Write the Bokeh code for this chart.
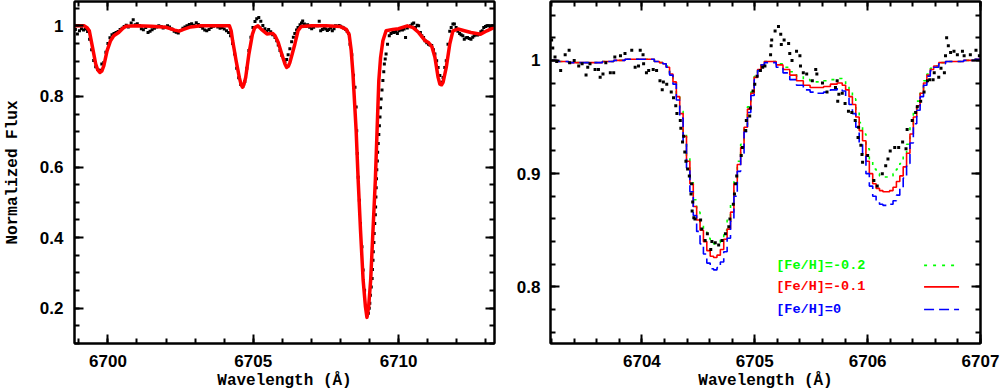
import numpy as np
from bokeh.plotting import figure
from bokeh.layouts import row
from bokeh.models import Range1d, FixedTicker, LinearAxis, Label, CustomJSTickFormatter
from bokeh.embed import file_html
from bokeh.resources import INLINE

# ---------------- left panel: observed spectrum (dots) ----------------
obs_left_wl = [6698.88, 6698.95, 6699.02, 6699.09, 6699.16, 6699.23, 6699.30, 6699.37, 6699.44, 6699.51,
               6699.58, 6699.65, 6699.72, 6699.79, 6699.86, 6699.93, 6700.00, 6700.07, 6700.14, 6700.21,
               6700.28, 6700.35, 6700.42, 6700.49, 6700.56, 6700.63, 6700.70, 6700.80, 6700.87, 6700.94,
               6701.01, 6701.08, 6701.15, 6701.22, 6701.30, 6701.38, 6701.45, 6701.52, 6701.60, 6701.68,
               6701.75, 6701.83, 6701.90, 6701.98, 6702.05, 6702.12, 6702.20, 6702.28, 6702.35, 6702.42,
               6702.50, 6702.58, 6702.65, 6702.72, 6702.80, 6702.88, 6702.96, 6703.04, 6703.11, 6703.18,
               6703.26, 6703.33, 6703.40, 6703.48, 6703.55, 6703.63, 6703.70, 6703.78, 6703.86, 6703.93,
               6704.00, 6704.08, 6704.15, 6704.22, 6704.29, 6704.36, 6704.43, 6704.50, 6704.57, 6704.64,
               6704.71, 6704.78, 6704.85, 6704.92, 6704.99, 6705.06, 6705.12, 6705.19, 6705.26, 6705.33,
               6705.40, 6705.47, 6705.53, 6705.60, 6705.67, 6705.75, 6705.81, 6705.86, 6705.92, 6705.98,
               6706.04, 6706.09, 6706.15, 6706.20, 6706.26, 6706.32, 6706.38, 6706.43, 6706.49, 6706.54,
               6706.61, 6706.66, 6706.70, 6706.76, 6706.82, 6706.87, 6706.94, 6707.01, 6707.08, 6707.14,
               6707.21, 6707.27, 6707.32, 6707.38, 6707.44, 6707.49, 6707.55, 6707.60, 6707.66, 6707.72,
               6707.78, 6707.83, 6707.90, 6707.95, 6708.00, 6708.06, 6708.11, 6708.18, 6708.23, 6708.28,
               6708.33, 6708.39, 6708.45, 6708.50, 6708.54, 6708.56, 6708.58, 6708.61, 6708.65, 6708.69,
               6708.74, 6708.78, 6708.83, 6708.87, 6708.92, 6708.96, 6708.99, 6709.01, 6709.03, 6709.06,
               6709.09, 6709.10, 6709.12, 6709.13, 6709.15, 6709.16, 6709.18, 6709.20, 6709.21, 6709.22,
               6709.23, 6709.24, 6709.25, 6709.27, 6709.28, 6709.30, 6709.32, 6709.34, 6709.36, 6709.38,
               6709.40, 6709.43, 6709.46, 6709.49, 6709.51, 6709.54, 6709.57, 6709.62, 6709.68, 6709.74,
               6709.80, 6709.85, 6709.91, 6709.96, 6710.02, 6710.08, 6710.13, 6710.19, 6710.24, 6710.30,
               6710.36, 6710.41, 6710.47, 6710.52, 6710.58, 6710.64, 6710.69, 6710.75, 6710.80, 6710.86,
               6710.91, 6710.97, 6711.03, 6711.08, 6711.14, 6711.20, 6711.25, 6711.31, 6711.36, 6711.42,
               6711.48, 6711.53, 6711.59, 6711.64, 6711.70, 6711.76, 6711.81, 6711.87, 6711.92, 6711.98,
               6712.04, 6712.10, 6712.15, 6712.21, 6712.26, 6712.32, 6712.37, 6712.43, 6712.49, 6712.55,
               6712.60, 6712.66, 6712.72, 6712.77, 6712.83, 6712.88, 6712.93, 6712.99, 6713.05, 6713.10,
               6713.16, 6713.22, 6713.28]
obs_left_flux = [0.990, 0.977, 0.986, 0.992, 0.988, 0.991, 0.984, 0.962, 0.932, 0.902,
                 0.884, 0.876, 0.874, 0.892, 0.896, 0.925, 0.950, 0.966, 0.975, 0.978,
                 0.981, 0.984, 0.990, 0.993, 0.998, 1.002, 0.997, 1.008, 1.017, 1.003,
                 1.006, 1.001, 0.992, 0.989, 0.995, 0.981, 0.985, 0.989, 0.993, 0.997,
                 1.000, 0.998, 0.994, 0.996, 1.000, 0.997, 0.991, 0.985, 0.982, 0.980,
                 0.987, 0.993, 0.997, 1.000, 1.004, 1.006, 1.002, 1.009, 1.004, 0.998,
                 0.993, 0.988, 0.986, 0.990, 0.995, 0.999, 1.001, 0.997, 0.993, 0.995,
                 0.991, 0.986, 0.981, 0.972, 0.950, 0.920, 0.880, 0.853, 0.834, 0.828,
                 0.842, 0.880, 0.930, 0.968, 0.995, 1.012, 1.020, 1.024, 1.013, 1.001,
                 0.992, 0.985, 0.990, 0.983, 0.975, 0.967, 0.958, 0.946, 0.930, 0.917,
                 0.905, 0.899, 0.905, 0.918, 0.935, 0.955, 0.968, 0.978, 0.988, 0.995,
                 1.003, 1.008, 1.014, 1.005, 0.998, 1.003, 0.996, 0.992, 0.996, 1.001,
                 1.000, 1.013, 0.986, 0.990, 0.995, 0.991, 0.987, 0.990, 0.994, 0.986,
                 0.992, 1.000, 0.998, 1.001, 0.999, 0.996, 0.994, 0.990, 0.985, 0.978,
                 0.948, 0.918, 0.860, 0.826, 0.770, 0.703, 0.638, 0.571, 0.506, 0.440,
                 0.374, 0.308, 0.251, 0.204, 0.181, 0.186, 0.200, 0.214, 0.237, 0.260,
                 0.284, 0.310, 0.336, 0.360, 0.386, 0.412, 0.440, 0.465, 0.487, 0.515,
                 0.541, 0.567, 0.592, 0.617, 0.642, 0.667, 0.692, 0.717, 0.742, 0.768,
                 0.793, 0.818, 0.845, 0.870, 0.892, 0.906, 0.920, 0.948, 0.972, 0.978,
                 0.982, 0.981, 0.984, 0.978, 0.986, 0.990, 0.988, 0.991, 0.967, 0.994,
                 0.998, 1.000, 1.005, 1.008, 0.995, 1.002, 1.000, 0.981, 0.972, 0.967,
                 0.958, 0.952, 0.948, 0.946, 0.944, 0.932, 0.920, 0.901, 0.882, 0.859,
                 0.840, 0.854, 0.882, 0.901, 0.948, 0.985, 0.995, 1.005, 1.005, 0.995,
                 0.985, 0.978, 0.975, 0.972, 0.962, 0.966, 0.967, 0.964, 0.962, 0.968,
                 0.972, 0.975, 0.974, 0.976, 0.983, 0.986, 0.995, 0.998, 1.000, 1.000,
                 0.998, 1.000, 0.999]

# ---------------- left panel: synthetic spectrum (red line) ----------------
syn_left_wl = [6698.85, 6699.19, 6699.28, 6699.36, 6699.47, 6699.58, 6699.65, 6699.72, 6699.79, 6699.86,
               6699.97, 6700.09, 6700.20, 6700.37, 6700.50, 6700.62, 6701.00, 6701.50, 6702.00, 6702.30,
               6702.45, 6702.60, 6702.85, 6703.20, 6703.80, 6704.18, 6704.24, 6704.29, 6704.35, 6704.41,
               6704.52, 6704.58, 6704.63, 6704.68, 6704.74, 6704.85, 6704.97, 6705.05, 6705.16, 6705.28,
               6705.47, 6705.60, 6705.68, 6705.75, 6705.86, 6705.98, 6706.09, 6706.15, 6706.21, 6706.26,
               6706.34, 6706.43, 6706.54, 6706.65, 6707.00, 6707.50, 6708.00, 6708.20, 6708.30, 6708.37,
               6708.43, 6708.54, 6708.61, 6708.69, 6708.78, 6708.86, 6708.91, 6708.97, 6709.04, 6709.12,
               6709.20, 6709.26, 6709.32, 6709.38, 6709.46, 6709.57, 6709.80, 6710.00, 6710.30, 6710.50,
               6710.69, 6710.91, 6711.03, 6711.15, 6711.25, 6711.36, 6711.42, 6711.48, 6711.53, 6711.64,
               6711.76, 6711.87, 6712.04, 6712.49, 6712.82, 6713.04, 6713.30]
syn_left_flux = [1.000, 1.000, 0.995, 0.986, 0.939, 0.892, 0.875, 0.868, 0.872, 0.887,
                 0.929, 0.958, 0.972, 0.981, 0.992, 0.999, 1.000, 0.999, 0.996, 0.988,
                 0.985, 0.990, 0.997, 1.000, 1.000, 1.000, 0.986, 0.958, 0.930, 0.901,
                 0.854, 0.834, 0.826, 0.834, 0.854, 0.920, 0.976, 0.995, 1.000, 0.990,
                 0.977, 0.978, 0.978, 0.972, 0.953, 0.920, 0.892, 0.882, 0.886, 0.896,
                 0.920, 0.948, 0.986, 0.998, 1.000, 1.000, 0.998, 0.990, 0.975, 0.930,
                 0.865, 0.703, 0.562, 0.421, 0.280, 0.204, 0.174, 0.204, 0.280, 0.421,
                 0.562, 0.703, 0.845, 0.910, 0.958, 0.986, 0.990, 0.992, 1.000, 0.995,
                 0.981, 0.958, 0.953, 0.940, 0.911, 0.854, 0.835, 0.833, 0.840, 0.882,
                 0.948, 0.986, 0.991, 0.981, 0.976, 0.986, 0.996]

# ---------------- right panel: observed spectrum (dots) ----------------
obs_right_wl = [6703.20, 6703.21, 6703.23, 6703.245, 6703.28, 6703.32, 6703.355, 6703.36, 6703.40, 6703.44,
                6703.47, 6703.505, 6703.52, 6703.54, 6703.585, 6703.615, 6703.63, 6703.655, 6703.68, 6703.72,
                6703.75, 6703.76, 6703.81, 6703.85, 6703.91, 6703.94, 6703.97, 6703.985, 6704.01, 6704.015,
                6704.04, 6704.06, 6704.10, 6704.13, 6704.16, 6704.18, 6704.19, 6704.22, 6704.26, 6704.28,
                6704.30, 6704.31, 6704.34, 6704.345, 6704.36, 6704.37, 6704.38, 6704.39, 6704.405, 6704.42,
                6704.435, 6704.44, 6704.445, 6704.45, 6704.46, 6704.47, 6704.52, 6704.53, 6704.56, 6704.58,
                6704.61, 6704.62, 6704.65, 6704.68, 6704.71, 6704.74, 6704.77, 6704.78, 6704.81, 6704.82,
                6704.83, 6704.84, 6704.88, 6704.89, 6704.92, 6704.925, 6704.955, 6704.96, 6704.985, 6705.00,
                6705.02, 6705.05, 6705.07, 6705.09, 6705.14, 6705.145, 6705.15, 6705.18, 6705.21, 6705.23,
                6705.235, 6705.26, 6705.30, 6705.31, 6705.33, 6705.37, 6705.40, 6705.405, 6705.43, 6705.46,
                6705.51, 6705.54, 6705.55, 6705.60, 6705.64, 6705.715, 6705.73, 6705.735, 6705.745, 6705.775,
                6705.80, 6705.83, 6705.86, 6705.89, 6705.915, 6705.92, 6705.94, 6705.95, 6705.955, 6706.00,
                6706.055, 6706.085, 6706.13, 6706.16, 6706.18, 6706.20, 6706.24, 6706.275, 6706.31, 6706.34,
                6706.35, 6706.395, 6706.425, 6706.44, 6706.47, 6706.50, 6706.53, 6706.55, 6706.58, 6706.59,
                6706.63, 6706.65, 6706.68, 6706.69, 6706.70, 6706.715, 6706.735, 6706.765, 6706.795, 6706.84,
                6706.855, 6706.91, 6706.96, 6706.99]
obs_right_flux = [1.018, 1.011, 1.003, 0.999, 0.991, 1.005, 1.009, 0.998, 1.000, 0.995,
                  0.997, 0.987, 0.994, 0.997, 0.992, 0.992, 0.985, 0.988, 0.998, 0.989,
                  0.989, 1.003, 1.004, 1.006, 1.009, 0.994, 0.995, 1.009, 1.005, 0.997,
                  0.989, 0.991, 0.992, 0.991, 0.982, 0.974, 0.981, 0.979, 0.972, 0.967,
                  0.960, 0.953, 0.947, 0.940, 0.928, 0.933, 0.919, 0.911, 0.904, 0.898,
                  0.882, 0.891, 0.867, 0.875, 0.861, 0.860, 0.859, 0.851, 0.841, 0.847,
                  0.833, 0.840, 0.839, 0.837, 0.841, 0.847, 0.853, 0.860, 0.873, 0.882,
                  0.891, 0.898, 0.916, 0.923, 0.938, 0.947, 0.951, 0.958, 0.973, 0.979,
                  0.986, 0.991, 0.994, 0.995, 1.005, 1.013, 1.018, 1.026, 1.030, 1.023,
                  1.014, 1.018, 1.015, 1.006, 1.000, 1.008, 1.004, 0.995, 0.989, 0.988,
                  0.982, 0.992, 0.988, 0.980, 0.972, 0.976, 0.982, 0.964, 0.970, 0.971,
                  0.962, 0.955, 0.954, 0.947, 0.932, 0.941, 0.925, 0.917, 0.910, 0.916,
                  0.894, 0.889, 0.900, 0.907, 0.913, 0.920, 0.923, 0.923, 0.928, 0.922,
                  0.939, 0.947, 0.954, 0.959, 0.964, 0.972, 0.982, 0.983, 0.983, 0.989,
                  0.985, 0.993, 0.989, 1.004, 1.020, 1.013, 1.007, 1.008, 1.005, 1.008,
                  1.004, 1.005, 1.009, 1.004]

# ---------------- right panel: model spectra ----------------
model_wl = [6703.20, 6703.30, 6703.40, 6703.50, 6703.60, 6703.70, 6703.80, 6703.90, 6704.00, 6704.08,
            6704.14, 6704.17, 6704.20, 6704.23, 6704.26, 6704.29, 6704.32, 6704.35, 6704.38, 6704.41,
            6704.44, 6704.47, 6704.50, 6704.53, 6704.56, 6704.59, 6704.62, 6704.65, 6704.68, 6704.71,
            6704.74, 6704.77, 6704.80, 6704.83, 6704.86, 6704.89, 6704.92, 6704.95, 6704.98, 6705.01,
            6705.04, 6705.07, 6705.10, 6705.16, 6705.22, 6705.28, 6705.34, 6705.40, 6705.46, 6705.52,
            6705.58, 6705.64, 6705.70, 6705.76, 6705.79, 6705.82, 6705.85, 6705.88, 6705.91, 6705.94,
            6705.97, 6706.00, 6706.03, 6706.06, 6706.09, 6706.12, 6706.15, 6706.18, 6706.21, 6706.24,
            6706.27, 6706.30, 6706.33, 6706.36, 6706.39, 6706.42, 6706.45, 6706.48, 6706.51, 6706.54,
            6706.57, 6706.60, 6706.66, 6706.72, 6706.80, 6706.90, 6707.00]
model_feh_m02 = [1.000, 0.999, 0.998, 0.998, 0.998, 0.999, 1.000, 1.001, 1.001, 1.001,
                 0.999, 0.998, 0.997, 0.995, 0.989, 0.982, 0.970, 0.955, 0.936, 0.915,
                 0.896, 0.877, 0.866, 0.857, 0.849, 0.843, 0.839, 0.838, 0.839, 0.843,
                 0.850, 0.859, 0.873, 0.895, 0.911, 0.926, 0.943, 0.959, 0.972, 0.986,
                 0.993, 0.997, 0.999, 0.999, 0.997, 0.994, 0.990, 0.986, 0.983, 0.981,
                 0.981, 0.982, 0.983, 0.984, 0.982, 0.978, 0.973, 0.966, 0.956, 0.945,
                 0.935, 0.922, 0.912, 0.904, 0.900, 0.898, 0.897, 0.897, 0.898, 0.900,
                 0.904, 0.909, 0.916, 0.926, 0.941, 0.955, 0.964, 0.974, 0.982, 0.988,
                 0.993, 0.995, 0.998, 0.999, 0.999, 1.000, 1.001]
model_feh_m01 = [1.000, 0.999, 0.998, 0.998, 0.998, 0.999, 1.000, 1.001, 1.001, 1.001,
                 0.999, 0.998, 0.997, 0.994, 0.988, 0.981, 0.968, 0.953, 0.933, 0.911,
                 0.891, 0.871, 0.859, 0.850, 0.840, 0.832, 0.827, 0.826, 0.828, 0.833,
                 0.842, 0.851, 0.866, 0.891, 0.908, 0.923, 0.941, 0.957, 0.971, 0.985,
                 0.992, 0.996, 0.999, 0.999, 0.996, 0.992, 0.987, 0.982, 0.978, 0.976,
                 0.976, 0.977, 0.979, 0.980, 0.978, 0.974, 0.968, 0.961, 0.950, 0.938,
                 0.929, 0.911, 0.900, 0.891, 0.887, 0.885, 0.884, 0.884, 0.885, 0.888,
                 0.893, 0.898, 0.906, 0.918, 0.935, 0.950, 0.960, 0.971, 0.980, 0.987,
                 0.992, 0.995, 0.998, 0.999, 0.999, 1.000, 1.001]
model_feh_0 = [1.000, 0.999, 0.998, 0.998, 0.998, 0.999, 1.000, 1.001, 1.001, 1.001,
               0.999, 0.998, 0.997, 0.994, 0.987, 0.979, 0.965, 0.949, 0.928, 0.905,
               0.884, 0.863, 0.849, 0.838, 0.829, 0.821, 0.816, 0.815, 0.817, 0.822,
               0.831, 0.843, 0.858, 0.880, 0.902, 0.918, 0.937, 0.954, 0.969, 0.983,
               0.991, 0.996, 0.998, 0.998, 0.994, 0.989, 0.983, 0.978, 0.974, 0.972,
               0.971, 0.972, 0.974, 0.975, 0.973, 0.968, 0.961, 0.953, 0.941, 0.927,
               0.915, 0.900, 0.889, 0.880, 0.875, 0.873, 0.872, 0.872, 0.873, 0.876,
               0.881, 0.887, 0.896, 0.909, 0.927, 0.944, 0.956, 0.968, 0.978, 0.986,
               0.991, 0.994, 0.997, 0.999, 0.999, 1.000, 1.001]

legend_labels = ["[Fe/H]=-0.2", "[Fe/H]=-0.1", "[Fe/H]=0"]
legend_colors = ["#00ff00", "#ff0000", "#0000ff"]
legend_dashes = ["3 6", "solid", "10 5"]

left_xticks = [6700, 6705, 6710]
left_yticks = [0.2, 0.4, 0.6, 0.8, 1.0]
right_xticks = [6704, 6705, 6706, 6707]
right_yticks = [0.8, 0.9, 1.0]

TICK_FONT = "Liberation Sans"
TITLE_FONT = "Liberation Mono"

fmt_code = "return (Math.round(tick*1000)/1000).toString();"


def style_axes(p, xt, xm, yt, ym, ystand):
    bottom = LinearAxis(ticker=FixedTicker(ticks=xt, minor_ticks=xm),
                        formatter=CustomJSTickFormatter(code=fmt_code))
    left = LinearAxis(ticker=FixedTicker(ticks=yt, minor_ticks=ym),
                      formatter=CustomJSTickFormatter(code=fmt_code))
    top = LinearAxis(ticker=FixedTicker(ticks=xt, minor_ticks=xm),
                     formatter=CustomJSTickFormatter(code="return '';"))
    right = LinearAxis(ticker=FixedTicker(ticks=yt, minor_ticks=ym),
                       formatter=CustomJSTickFormatter(code="return '';"))
    p.add_layout(bottom, "below")
    p.add_layout(left, "left")
    p.add_layout(top, "above")
    p.add_layout(right, "right")
    for ax in [bottom, left, top, right]:
        ax.major_tick_in = 9
        ax.major_tick_out = 0
        ax.minor_tick_in = 5
        ax.minor_tick_out = 0
        ax.axis_line_width = 2
        ax.major_tick_line_width = 2
        ax.minor_tick_line_width = 2
        ax.axis_line_color = "black"
        ax.major_tick_line_color = "black"
        ax.minor_tick_line_color = "black"
        ax.major_label_text_font = TICK_FONT
        ax.major_label_text_font_style = "bold"
        ax.major_label_text_font_size = "17px"
        ax.major_label_text_color = "black"
    for ax in [top, right]:
        ax.major_label_standoff = 0
        ax.major_label_text_font_size = "1px"
    bottom.major_label_standoff = 11
    left.major_label_standoff = ystand
    p.outline_line_color = "black"
    p.outline_line_width = 2
    p.background_fill_color = "white"
    p.border_fill_color = "white"
    return bottom, left


def title_style(ax):
    ax.axis_label_text_font = TITLE_FONT
    ax.axis_label_text_font_style = "bold"
    ax.axis_label_text_font_size = "16px"
    ax.axis_label_text_color = "black"


# ---------------- left figure ----------------
p1 = figure(width=496, height=392, output_backend="svg", toolbar_location=None,
            x_axis_location=None, y_axis_location=None,
            x_range=Range1d(6698.85, 6713.3), y_range=Range1d(0.1, 1.069),
            min_border_left=65, min_border_right=2, min_border_top=1, min_border_bottom=47)
p1.grid.visible = False
b1, l1 = style_axes(p1, left_xticks, list(np.arange(6699, 6714, 1.0)),
                    left_yticks, [round(v, 2) for v in np.arange(0.10, 1.07, 0.05)], 11)
b1.axis_label = "Wavelength (Å)"
l1.axis_label = "Normalized Flux"
b1.axis_label_standoff = 2
l1.axis_label_standoff = 15
title_style(b1)
title_style(l1)

p1.scatter(obs_left_wl, obs_left_flux, marker="square", size=3, color="black", line_color=None)
p1.line(syn_left_wl, syn_left_flux, line_color="#ff0000", line_width=3.5, line_join="round")

# ---------------- right figure ----------------
p2 = figure(width=505, height=392, output_backend="svg", toolbar_location=None,
            x_axis_location=None, y_axis_location=None,
            x_range=Range1d(6703.19, 6707.0), y_range=Range1d(0.75, 1.052),
            min_border_left=54, min_border_right=21, min_border_top=1, min_border_bottom=47)
p2.grid.visible = False
b2, l2 = style_axes(p2, right_xticks, [round(v, 1) for v in np.arange(6703.2, 6707.01, 0.2)],
                    right_yticks, [round(v, 2) for v in np.arange(0.76, 1.051, 0.02)], 10)
b2.axis_label = "Wavelength (Å)"
b2.axis_label_standoff = 2
title_style(b2)

models = [model_feh_m02, model_feh_m01, model_feh_0]
for vals, col, dash in zip(models, legend_colors, legend_dashes):
    p2.step(model_wl, vals, mode="center", line_color=col, line_width=1.6, line_dash=dash)

p2.scatter(obs_right_wl, obs_right_flux, marker="square", size=3, color="black", line_color=None)

# legend (text on the left, line sample on the right)
legend_y = [0.819, 0.800, 0.780]
for lab, col, dash, yy in zip(legend_labels, legend_colors, legend_dashes, legend_y):
    p2.add_layout(Label(x=6705.19, y=yy, text=lab, text_color=col,
                        text_font=TITLE_FONT, text_font_style="bold", text_font_size="13.5px",
                        text_baseline="middle", text_align="left"))
    p2.line([6706.50, 6706.81], [yy, yy], line_color=col, line_width=1.6, line_dash=dash)

layout = row(p1, p2)
open("out.html", "w").write(file_html(layout, INLINE))
